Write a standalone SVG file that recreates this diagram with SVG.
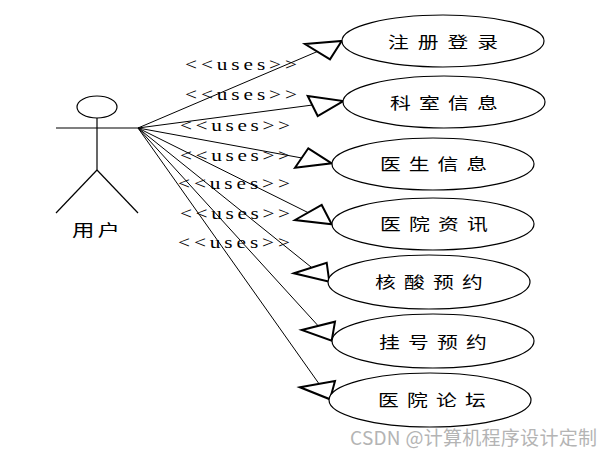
<svg xmlns="http://www.w3.org/2000/svg" width="612" height="457" viewBox="0 0 612 457">
<style>
.bg{fill:#fff}
.uc{fill:#fff;stroke:#000;stroke-width:1.2}
.ut{font-family:"Noto Sans CJK SC","Liberation Sans",sans-serif;font-size:16px;fill:#000}
.ln{stroke:#000;stroke-width:1;fill:none}
.hd{fill:#fff;stroke:#000;stroke-width:2;stroke-linejoin:miter}
.lb{font-family:"Liberation Serif",serif;font-size:17px;fill:#000}
.act{stroke:#000;stroke-width:1.2;fill:none}
.wm{font-family:"Noto Sans CJK SC","Liberation Sans",sans-serif;font-size:19px;fill:#b4b4b4}
</style>
<rect class="bg" x="0" y="0" width="612" height="457"/>
<g id="actor">
<ellipse class="act" cx="97" cy="107" rx="20" ry="11"/>
<line class="act" x1="56" y1="128" x2="138" y2="128"/>
<line class="act" x1="97" y1="118" x2="97" y2="170"/>
<line class="act" x1="97" y1="170" x2="56" y2="213"/>
<line class="act" x1="97" y1="170" x2="138" y2="213"/>
<text class="ut" transform="translate(72,236) scale(1.4,1)" x="0" y="0" font-size="15" textLength="34.3" lengthAdjust="spacing">用户</text>
</g>
<g id="connectors">
<line class="ln" x1="138" y1="128" x2="342" y2="41"/>
<line class="ln" x1="138" y1="128" x2="343" y2="101"/>
<line class="ln" x1="138" y1="128" x2="332" y2="163.5"/>
<line class="ln" x1="138" y1="128" x2="332" y2="224.5"/>
<line class="ln" x1="138" y1="128" x2="329.3" y2="281.7"/>
<line class="ln" x1="138" y1="128" x2="331.7" y2="340.7"/>
<line class="ln" x1="138" y1="128" x2="330" y2="399.3"/>
<polygon class="hd" points="305,44 341.7,41 330,59.3"/>
<polygon class="hd" points="307.7,96 343.3,101 317.7,116"/>
<polygon class="hd" points="295,167.7 308.3,148.3 331.7,163.3"/>
<polygon class="hd" points="295,220 321.7,205 331.7,224.3"/>
<polygon class="hd" points="294,273.3 326.7,262.7 329.3,281.7"/>
<polygon class="hd" points="301.7,330 335,321.7 331.7,340.7"/>
<polygon class="hd" points="300,387.3 335,381 330,399.3"/>
<text class="lb" transform="translate(185,70) scale(1.25,1)" textLength="89.6" lengthAdjust="spacing">&lt;&lt;uses&gt;&gt;</text>
<text class="lb" transform="translate(185,100) scale(1.25,1)" textLength="89.6" lengthAdjust="spacing">&lt;&lt;uses&gt;&gt;</text>
<text class="lb" transform="translate(180,131) scale(1.25,1)" textLength="88" lengthAdjust="spacing">&lt;&lt;uses&gt;&gt;</text>
<text class="lb" transform="translate(180,161) scale(1.25,1)" textLength="88" lengthAdjust="spacing">&lt;&lt;uses&gt;&gt;</text>
<text class="lb" transform="translate(178,189) scale(1.25,1)" textLength="89.6" lengthAdjust="spacing">&lt;&lt;uses&gt;&gt;</text>
<text class="lb" transform="translate(180,219) scale(1.25,1)" textLength="88" lengthAdjust="spacing">&lt;&lt;uses&gt;&gt;</text>
<text class="lb" transform="translate(178,248) scale(1.25,1)" textLength="89.6" lengthAdjust="spacing">&lt;&lt;uses&gt;&gt;</text>
</g>
<g id="uc1"><ellipse class="uc" cx="443" cy="41" rx="101" ry="26"/><text class="ut" transform="translate(388,48) scale(1.3,1)" textLength="84.6" lengthAdjust="spacing">注册登录</text></g>
<g id="uc2"><ellipse class="uc" cx="444" cy="102" rx="101" ry="26"/><text class="ut" transform="translate(390,109) scale(1.3,1)" textLength="83" lengthAdjust="spacing">科室信息</text></g>
<g id="uc3"><ellipse class="uc" cx="433" cy="164" rx="101" ry="26"/><text class="ut" transform="translate(380,170) scale(1.3,1)" textLength="82.3" lengthAdjust="spacing">医生信息</text></g>
<g id="uc4"><ellipse class="uc" cx="433" cy="224" rx="101" ry="26"/><text class="ut" transform="translate(380,230) scale(1.3,1)" textLength="83" lengthAdjust="spacing">医院资讯</text></g>
<g id="uc5"><ellipse class="uc" cx="429" cy="282" rx="101" ry="27"/><text class="ut" transform="translate(375,288) scale(1.3,1)" textLength="83" lengthAdjust="spacing">核酸预约</text></g>
<g id="uc6"><ellipse class="uc" cx="433" cy="341" rx="101" ry="27"/><text class="ut" transform="translate(379,348) scale(1.3,1)" textLength="83" lengthAdjust="spacing">挂号预约</text></g>
<g id="uc7"><ellipse class="uc" cx="430" cy="400" rx="101" ry="27"/><text class="ut" transform="translate(378,406) scale(1.3,1)" textLength="83" lengthAdjust="spacing">医院论坛</text></g>
<text class="wm" x="350" y="445" textLength="247" lengthAdjust="spacing">CSDN @计算机程序设计定制</text>
</svg>
